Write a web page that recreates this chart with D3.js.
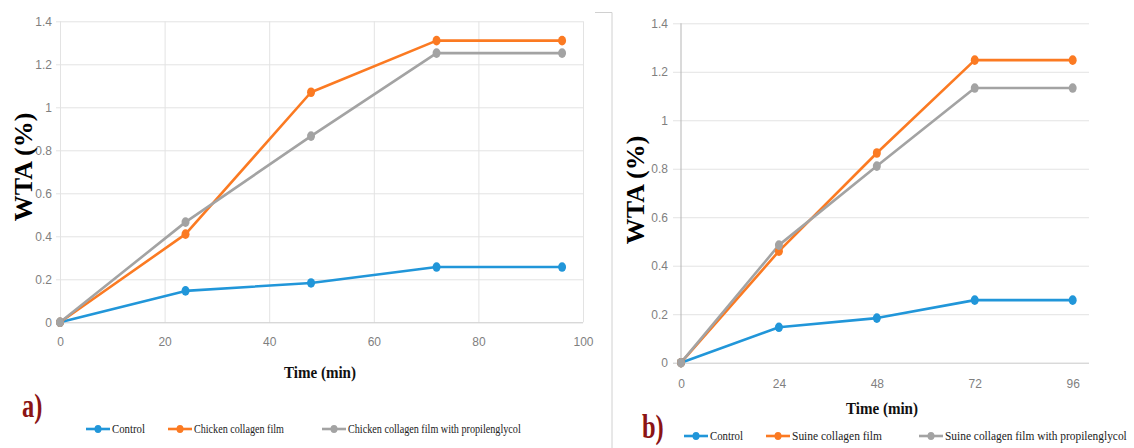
<!DOCTYPE html>
<html>
<head>
<meta charset="utf-8">
<script src="https://cdn.jsdelivr.net/npm/d3@7"></script>
<style>
  html, body { margin: 0; padding: 0; background: #ffffff; }
  svg { display: block; }
  .serif { font-family: "Liberation Serif", "Times New Roman", serif; }
  .tick-label { font-family: "Liberation Sans", "DejaVu Sans", sans-serif; }
</style>
</head>
<body>
<svg id="chart" width="1134" height="448"></svg>
<script>
// ---------------- data ----------------
const timePoints = [0, 24, 48, 72, 96];

const leftControl   = [0, 0.146, 0.183, 0.257, 0.257];
const leftChicken   = [0, 0.41, 1.07, 1.31, 1.31];
const leftChickenPG = [0, 0.466, 0.866, 1.252, 1.252];

const rightControl  = [0, 0.146, 0.184, 0.258, 0.258];
const rightSuine    = [0, 0.46, 0.865, 1.248, 1.248];
const rightSuinePG  = [0, 0.485, 0.811, 1.133, 1.133];

const yTicks      = [0, 0.2, 0.4, 0.6, 0.8, 1, 1.2, 1.4];
const yTickLabels = ["0", "0.2", "0.4", "0.6", "0.8", "1", "1.2", "1.4"];
const leftXTicks  = [0, 20, 40, 60, 80, 100];
const rightXTicks = [0, 24, 48, 72, 96];

const leftLegend  = ["Control", "Chicken collagen film", "Chicken collagen film with propilenglycol"];
const rightLegend = ["Control", "Suine collagen film", "Suine collagen film with propilenglycol"];

const seriesColors = ["#2196d9", "#fb7a22", "#a3a3a3"];

// ---------------- drawing ----------------
const svg = d3.select("#chart");

// place a text squeezed horizontally to a target width via a transform
function squeezedText(parent, str, px, py, targetW, anchor, attrs) {
  const t = parent.append("text").attr("class", "serif").text(str);
  Object.entries(attrs).forEach(([k, v]) => t.attr(k, v));
  const natural = t.node().getComputedTextLength() || targetW;
  const sx = Math.min(1, targetW / natural);
  t.attr("text-anchor", anchor)
   .attr("transform", `translate(${px},${py}) scale(${sx},1)`);
  return t;
}

function drawPanel(cfg) {
  const x = d3.scaleLinear().domain([0, 100]).range([cfg.x0, cfg.x1]);
  const y = d3.scaleLinear().domain([0, 1.4]).range([cfg.y0, cfg.y1]);
  const g = svg.append("g");

  if (cfg.vgrid) {
    const gx = g.append("g")
      .attr("transform", `translate(0,${cfg.y0})`)
      .call(d3.axisBottom(x).tickValues(cfg.xTicks).tickSize(-(cfg.y0 - cfg.y1)).tickFormat(""));
    gx.select(".domain").remove();
    gx.selectAll("line").attr("stroke", "#e3e3e3").attr("stroke-width", 1);
  }

  const gy = g.append("g")
    .attr("transform", `translate(${cfg.x0},0)`)
    .call(d3.axisLeft(y).tickValues(yTicks).tickFormat((d, i) => yTickLabels[i])
      .tickSize(-(cfg.x1 - cfg.x0)).tickPadding(cfg.yPad));
  gy.attr("font-family", null).attr("font-size", null);
  gy.select(".domain").remove();
  gy.selectAll(".tick line")
    .attr("x1", -cfg.tickOut)
    .attr("stroke", (d) => d === 0 ? "#c8c8c8" : "#e3e3e3")
    .attr("stroke-width", 1);
  gy.selectAll(".tick text")
    .attr("class", "tick-label")
    .attr("fill", "#7f7f7f")
    .attr("font-size", 12);

  if (cfg.yAxisLine) {
    g.append("line")
      .attr("x1", x(0)).attr("x2", x(0))
      .attr("y1", y(1.4)).attr("y2", y(0))
      .attr("stroke", "#b5b5b5").attr("stroke-width", 1);
  }

  const gxl = g.append("g")
    .attr("transform", `translate(0,${cfg.y0})`)
    .call(d3.axisBottom(x).tickValues(cfg.xTicks).tickSize(0).tickPadding(cfg.xPad));
  gxl.attr("font-family", null).attr("font-size", null);
  gxl.select(".domain").remove();
  gxl.selectAll(".tick text")
    .attr("class", "tick-label")
    .attr("fill", "#7f7f7f")
    .attr("font-size", 12);

  const line = d3.line().x((d, i) => x(timePoints[i])).y((d) => y(d));
  cfg.series.forEach((vals, si) => {
    g.append("path")
      .datum(vals)
      .attr("fill", "none")
      .attr("stroke", seriesColors[si])
      .attr("stroke-width", 2.6)
      .attr("stroke-linejoin", "round")
      .attr("d", line);
  });
  cfg.series.forEach((vals, si) => {
    g.selectAll(null).data(vals).enter().append("ellipse")
      .attr("cx", (d, i) => x(timePoints[i]))
      .attr("cy", (d) => y(d))
      .attr("rx", 4).attr("ry", 4.8)
      .attr("fill", seriesColors[si]);
  });

  squeezedText(g, "Time (min)", cfg.xTitle[0], cfg.xTitle[1], 72, "middle",
    {"font-weight": "bold", "font-size": 17, "fill": "#111"});

  g.append("text")
    .attr("class", "serif")
    .attr("transform", `translate(${cfg.yTitle[0]},${cfg.yTitle[1]}) rotate(-90)`)
    .attr("text-anchor", "middle")
    .attr("dy", "0.35em")
    .attr("font-weight", "bold").attr("font-size", 26)
    .attr("fill", "#000")
    .text("WTA (%)");

  g.append("text")
    .attr("class", "serif")
    .attr("transform", `translate(${cfg.letter[0]},${cfg.letter[1]}) scale(0.72,1)`)
    .attr("font-weight", "bold").attr("font-size", 34)
    .attr("fill", "#8b1414")
    .text(cfg.letter[2]);

  cfg.legend.forEach((item, i) => {
    const lg = g.append("g");
    lg.append("line")
      .attr("x1", item.lx).attr("x2", item.lx + 24)
      .attr("y1", cfg.legendY).attr("y2", cfg.legendY)
      .attr("stroke", seriesColors[i]).attr("stroke-width", 2.6);
    lg.append("ellipse")
      .attr("cx", item.lx + 12).attr("cy", cfg.legendY)
      .attr("rx", 3.5).attr("ry", 4)
      .attr("fill", seriesColors[i]);
    squeezedText(lg, cfg.legendLabels[i], item.lx + 26, cfg.legendY + 4, item.w, "start",
      {"font-size": 13, "fill": "#222"});
  });
}

svg.append("path")
  .attr("d", "M595,12.5 H612 V448")
  .attr("fill", "none").attr("stroke", "#d0d0d0").attr("stroke-width", 1);

drawPanel({
  x0: 60, x1: 583, y0: 322.3, y1: 21.3,
  vgrid: true, yAxisLine: false, tickOut: 4, yPad: 8, xPad: 15,
  xTicks: leftXTicks,
  series: [leftControl, leftChicken, leftChickenPG],
  xTitle: [320, 378], yTitle: [23, 167],
  letter: [22, 417, "a)"],
  legendY: 429,
  legendLabels: leftLegend,
  legend: [{lx: 86, w: 33}, {lx: 168, w: 90}, {lx: 322, w: 173}]
});

drawPanel({
  x0: 681, x1: 1089, y0: 362.7, y1: 23.3,
  vgrid: false, yAxisLine: true, tickOut: 8, yPad: 13, xPad: 17,
  xTicks: rightXTicks,
  series: [rightControl, rightSuine, rightSuinePG],
  xTitle: [882, 414], yTitle: [635, 190],
  letter: [642, 438, "b)"],
  legendY: 436,
  legendLabels: rightLegend,
  legend: [{lx: 684, w: 33}, {lx: 766, w: 90}, {lx: 919, w: 182}]
});
</script>
</body>
</html>
